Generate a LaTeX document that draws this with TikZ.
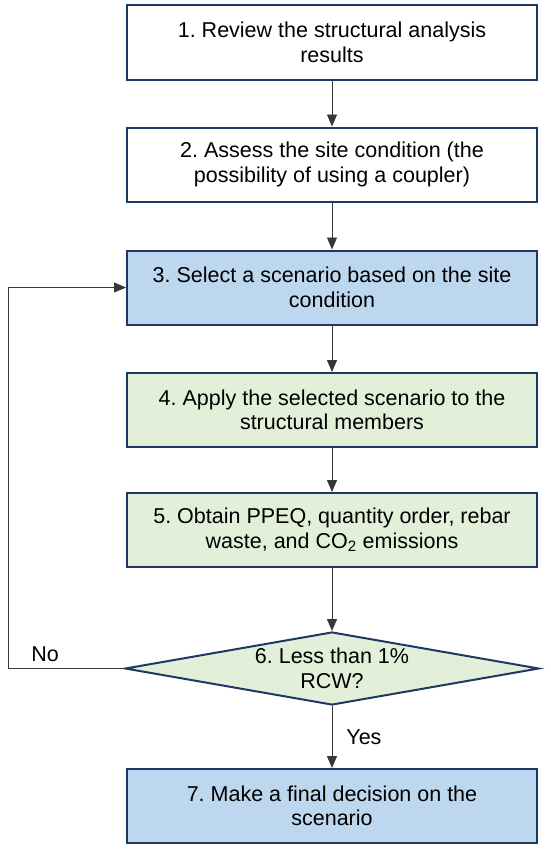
\documentclass[tikz,border=0pt]{standalone}
\usepackage{fontspec}
\setmainfont{Liberation Sans}
\usetikzlibrary{shapes.geometric, arrows.meta}
\frenchspacing

\definecolor{boxline}{HTML}{203864}
\definecolor{boxblue}{HTML}{BDD7EE}
\definecolor{boxgreen}{HTML}{E2F0D9}
\definecolor{flowline}{HTML}{383838}

\tikzset{
    stepbox/.style={draw=boxline, line width=2pt, rectangle, align=center,
        minimum width=410pt, minimum height=74pt, inner sep=0pt,
        font=\fontsize{21.5}{24.5}\selectfont},
    decision/.style={draw=boxline, line width=2pt, diamond, aspect=5.5,
        minimum width=414pt, minimum height=73pt, inner sep=0pt},
    flow/.style={draw=flowline, line width=0.8pt,
        -{Triangle[length=12pt, width=10pt]}},
    flowlabel/.style={font=\fontsize{21.5}{24.5}\selectfont}
}

\begin{document}
\begin{tikzpicture}[x=1pt, y=-1pt]
        \useasboundingbox (0, 0) rectangle (550, 851);

        % steps 1 - 5
        \node[stepbox, fill=white] (review) at (332, 42.5)
            {1. Review the structural analysis\\results};
        \node[stepbox, fill=white] (assess) at (332, 164.5)
            {2. Assess the site condition (the\\possibility of using a coupler)};
        \node[stepbox, fill=boxblue] (select) at (332, 287.5)
            {3. Select a scenario based on the site\\condition};
        \node[stepbox, fill=boxgreen] (apply) at (332, 410)
            {4. Apply the selected scenario to the\\structural members};
        \node[stepbox, fill=boxgreen] (obtain) at (332, 530)
            {5. Obtain PPEQ, quantity order, rebar\\waste, and CO\textsubscript{2} emissions};

        % decision 6
        \node[decision, fill=boxgreen, label={[flowlabel, align=center]center:6. Less than 1\%\\RCW?}]
            (check) at (332, 668.5) {};

        % step 7
        \node[stepbox, fill=boxblue] (decide) at (332, 806)
            {7. Make a final decision on the\\scenario};

        % edges down
        \draw[flow] (review) -- (assess);
        \draw[flow] (assess) -- (select);
        \draw[flow] (select) -- (apply);
        \draw[flow] (apply) -- (obtain);
        \draw[flow] (obtain) -- (check);
        \draw[flow] (check) -- node[flowlabel, midway, right, inner sep=14pt] {Yes} (decide);

        % edge back to 3
        \coordinate (back) at (8, 668.5);
        \draw[flow] (check.west) -- node[flowlabel, pos=0.68, above, inner sep=6pt] {No} (back)
            |- (select.west);
    \end{tikzpicture}
\end{document}
